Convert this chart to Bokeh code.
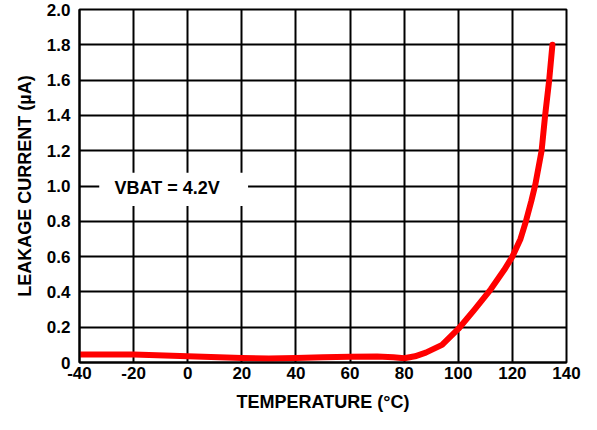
from bokeh.plotting import figure
from bokeh.models import FixedTicker, CustomJSTickFormatter, Range1d
from bokeh.core.properties import value
from bokeh.embed import file_html
from bokeh.resources import INLINE

# Data
temperature = [-40, -20, 0, 20, 30, 40, 50, 60, 70, 76, 80, 84, 88, 94, 100,
               106, 112, 117, 120, 123, 125, 127, 128.5, 130.8, 132.1, 133.6,
               134.8]
leakage = [0.045, 0.045, 0.035, 0.025, 0.022, 0.025, 0.03, 0.032, 0.034, 0.03,
           0.024, 0.035, 0.056, 0.10, 0.19, 0.30, 0.415, 0.525, 0.6, 0.70,
           0.8, 0.915, 1.01, 1.2, 1.4, 1.6, 1.8]
x_ticks = [-40, -20, 0, 20, 40, 60, 80, 100, 120, 140]
y_ticks = [0, 0.2, 0.4, 0.6, 0.8, 1.0, 1.2, 1.4, 1.6, 1.8, 2.0]
annotation = "VBAT = 4.2V"

FONT = "Liberation Sans"

p = figure(width=581, height=414, output_backend="svg", toolbar_location=None,
           x_range=Range1d(-40, 140), y_range=Range1d(0, 2.0),
           min_border_left=79, min_border_top=9, min_border_right=15,
           min_border_bottom=48)
p.background_fill_color = "white"
p.border_fill_color = "white"
p.outline_line_color = "black"
p.outline_line_width = 2

for ax in (p.xaxis[0], p.yaxis[0]):
    ax.axis_line_color = "black"
    ax.axis_line_width = 2
    ax.major_tick_in = 0
    ax.major_tick_out = 0
    ax.minor_tick_in = 0
    ax.minor_tick_out = 0
    ax.major_label_text_font = FONT
    ax.major_label_text_font_style = "bold"
    ax.major_label_text_font_size = "17px"
    ax.major_label_text_color = "black"
    ax.axis_label_text_font = FONT
    ax.axis_label_text_font_style = "bold"
    ax.axis_label_text_font_size = "18px"
    ax.axis_label_text_color = "black"

p.xaxis.ticker = FixedTicker(ticks=x_ticks)
p.yaxis.ticker = FixedTicker(ticks=y_ticks)
p.xaxis.formatter = CustomJSTickFormatter(code="return tick.toFixed(0);")
p.yaxis.formatter = CustomJSTickFormatter(code="return tick == 0 ? '0' : tick.toFixed(1);")
p.xaxis.major_label_standoff = 4
p.yaxis.major_label_standoff = 9
p.xaxis.axis_label = "TEMPERATURE (°C)"
p.yaxis.axis_label = "LEAKAGE CURRENT (µA)"
p.xaxis.axis_label_standoff = 10
p.yaxis.axis_label_standoff = 9

for g in (p.xgrid[0], p.ygrid[0]):
    g.grid_line_color = "black"
    g.grid_line_width = 2
p.xgrid.ticker = FixedTicker(ticks=x_ticks)
p.ygrid.ticker = FixedTicker(ticks=y_ticks)

# white label box
p.quad(left=-32.7, right=22.3, bottom=0.886, top=1.075,
       fill_color="white", line_color=None)
p.text(x=[-7.6], y=[0.99], text=[annotation], text_font=value(FONT),
       text_font_style="bold", text_font_size="18px", text_color="black",
       text_align="center", text_baseline="middle")

p.line(temperature, leakage, line_color="#ff0000", line_width=6,
       line_join="round", line_cap="round")

open("out.html", "w").write(file_html(p, INLINE))
